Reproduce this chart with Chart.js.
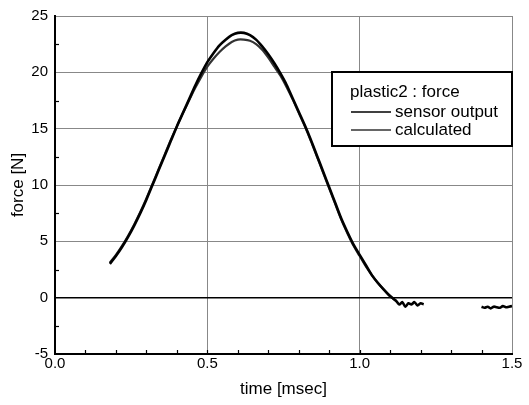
<!DOCTYPE html>
<html>
<head>
<meta charset="utf-8">
<script src="https://cdn.jsdelivr.net/npm/chart.js@4.4.1/dist/chart.umd.min.js"></script>
<style>
  html, body { margin: 0; padding: 0; background: #fff; }
  #wrap { width: 529px; height: 405px; position: relative; }
</style>
</head>
<body>
<div id="wrap"><canvas id="c" width="529" height="405"></canvas></div>
<script>
const legendTitle = 'plastic2 : force';
const seriesNames = ['sensor output', 'calculated'];
const xTitle = 'time [msec]';
const yTitle = 'force [N]';
const xTicks = [0.0, 0.5, 1.0, 1.5];
const yTicks = [-5, 0, 5, 10, 15, 20, 25];

const sensorTime = [0.18,0.20,0.22,0.24,0.26,0.28,0.30,0.32,0.34,0.36,0.38,0.40,0.42,0.44,0.46,0.48,0.50,0.52,0.54,0.56,0.58,0.60,0.62,0.64,0.66,0.68,0.70,0.72,0.74,0.76,0.78,0.80,0.82,0.84,0.86,0.88,0.90,0.92,0.94,0.96,0.98,1.00,1.02,1.04,1.06,1.08,1.10,1.12,1.13,1.14,1.15,1.16,1.17,1.18,1.19,1.20,1.21,1.30,1.40,1.41,1.42,1.43,1.44,1.45,1.46,1.47,1.48,1.49,1.50];
const sensorForce = [3.0,3.7,4.5,5.4,6.4,7.5,8.7,10.0,11.3,12.6,13.9,15.2,16.4,17.6,18.8,19.9,20.9,21.7,22.4,22.9,23.3,23.5,23.5,23.3,22.9,22.3,21.6,20.8,19.9,18.9,17.7,16.5,15.3,14.0,12.6,11.2,9.8,8.4,7.0,5.8,4.7,3.8,2.9,2.0,1.3,0.7,0.15,-0.3,-0.6,-0.4,-0.8,-0.5,-0.6,-0.4,-0.7,-0.5,-0.6,null,-0.8,-0.9,-0.8,-0.95,-0.8,-0.85,-0.9,-0.75,-0.85,-0.8,-0.75];

const calcTime = [0.18,0.20,0.22,0.24,0.26,0.28,0.30,0.32,0.34,0.36,0.38,0.40,0.42,0.44,0.46,0.48,0.50,0.52,0.54,0.56,0.58,0.60,0.62,0.64,0.66,0.68,0.70,0.72,0.74,0.76,0.78,0.80,0.82,0.84,0.86,0.88,0.90,0.92,0.94,0.96,0.98,1.00,1.02,1.04,1.06,1.08,1.10,1.12];
const calcForce = [3.1,3.8,4.6,5.5,6.5,7.6,8.8,10.1,11.4,12.7,14.0,15.2,16.4,17.5,18.6,19.6,20.5,21.2,21.8,22.3,22.7,22.9,22.9,22.8,22.5,22.0,21.3,20.5,19.7,18.7,17.6,16.4,15.2,13.9,12.5,11.1,9.7,8.3,6.9,5.7,4.6,3.7,2.8,2.0,1.3,0.7,0.1,-0.3];

const sensorPts = sensorTime.map((t, i) => ({x: t, y: sensorForce[i]}));
const calcPts = calcTime.map((t, i) => ({x: t, y: calcForce[i]}));

const FONT = "'Liberation Sans', Arial, Helvetica, sans-serif";

const minorTicks = {
  id: 'minorTicks',
  afterDatasetsDraw(chart) {
    const {ctx, chartArea: a, scales: {x, y}} = chart;
    ctx.save();
    ctx.strokeStyle = '#000';
    ctx.lineWidth = 1.2;
    for (let v = 0.1; v < 1.5; v += 0.1) {
      const px = Math.round(x.getPixelForValue(v)) + 0.5;
      ctx.beginPath(); ctx.moveTo(px, a.bottom); ctx.lineTo(px, a.bottom - 4); ctx.stroke();
    }
    for (let v = -2.5; v < 25; v += 5) {
      const py = Math.round(y.getPixelForValue(v)) + 0.5;
      ctx.beginPath(); ctx.moveTo(a.left, py); ctx.lineTo(a.left + 4, py); ctx.stroke();
    }
    ctx.restore();
  }
};

const boxLegend = {
  id: 'boxLegend',
  afterDraw(chart) {
    const {ctx} = chart;
    const bx = 332, by = 72, bw = 180, bh = 74;
    ctx.save();
    ctx.fillStyle = '#fff';
    ctx.fillRect(bx, by, bw, bh);
    ctx.strokeStyle = '#000';
    ctx.lineWidth = 2;
    ctx.strokeRect(bx, by, bw, bh);
    ctx.fillStyle = '#000';
    ctx.font = '17px ' + FONT;
    ctx.textBaseline = 'alphabetic';
    ctx.fillText(legendTitle, 350, 97);
    chart.data.datasets.forEach((ds, i) => {
      const ly = 112 + i * 18;
      ctx.strokeStyle = ds.borderColor;
      ctx.lineWidth = 1.5;
      ctx.beginPath(); ctx.moveTo(351, ly); ctx.lineTo(391, ly); ctx.stroke();
      ctx.fillStyle = '#000';
      ctx.fillText(ds.label, 395, ly + 5);
    });
    ctx.restore();
  }
};

new Chart(document.getElementById('c'), {
  type: 'line',
  data: {
    datasets: [
      { label: seriesNames[0], data: sensorPts, borderColor: '#000', borderWidth: 2.6, pointRadius: 0, tension: 0.3, spanGaps: false },
      { label: seriesNames[1], data: calcPts, borderColor: '#333', borderWidth: 2.2, pointRadius: 0, tension: 0.3 }
    ]
  },
  options: {
    responsive: false,
    animation: false,
    devicePixelRatio: 1,
    layout: { padding: { left: 0, right: 17, top: 13, bottom: 0 } },
    plugins: { legend: { display: false }, tooltip: { enabled: false } },
    scales: {
      x: {
        type: 'linear', min: 0, max: 1.5,
        afterBuildTicks: s => { s.ticks = xTicks.map(v => ({value: v})); },
        afterFit: s => { s.height = 51; },
        ticks: { font: { family: FONT, size: 15 }, color: '#000', padding: 1, callback: v => v.toFixed(1), maxRotation: 0 },
        grid: { color: '#888', lineWidth: 1, drawTicks: false },
        border: { color: '#000', width: 2 },
        title: { display: true, text: xTitle, color: '#000', font: { family: FONT, size: 17 }, padding: { top: 5, bottom: 5 } }
      },
      y: {
        type: 'linear', min: -5, max: 25,
        afterBuildTicks: s => { s.ticks = yTicks.map(v => ({value: v})); },
        afterFit: s => { s.width = 55; },
        ticks: { font: { family: FONT, size: 15 }, color: '#000', padding: 7 },
        grid: {
          color: c => (c.tick && c.tick.value === 0) ? '#000' : '#888',
          lineWidth: c => (c.tick && c.tick.value === 0) ? 1.6 : 1,
          drawTicks: false
        },
        border: { color: '#000', width: 2 },
        title: { display: true, text: yTitle, color: '#000', font: { family: FONT, size: 17 }, padding: { top: 8, bottom: 0 } }
      }
    }
  },
  plugins: [minorTicks, boxLegend]
});
</script>
</body>
</html>
